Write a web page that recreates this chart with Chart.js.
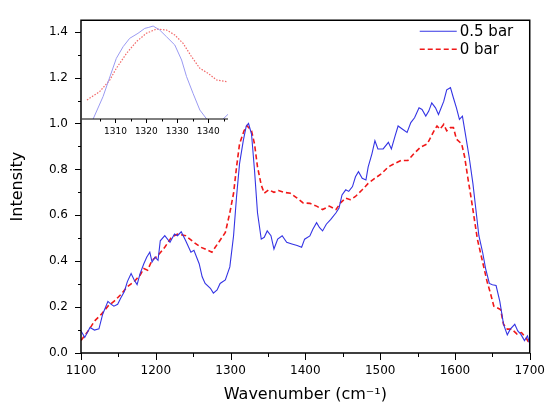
<!DOCTYPE html>
<html>
<head>
<meta charset="utf-8">
<script src="https://cdn.jsdelivr.net/npm/chart.js@4.4.1/dist/chart.umd.min.js"></script>
<style>
  html, body { margin: 0; padding: 0; background: #fff; }
  #wrap { position: relative; width: 556px; height: 409px; }
  #mainChart { position: absolute; left: 0; top: 0; }
  #insetChart { position: absolute; left: 82px; top: 14px; }
</style>
</head>
<body>
<div id="wrap">
  <canvas id="mainChart" width="556" height="409" style="width:556px;height:409px"></canvas>
  <canvas id="insetChart" width="146" height="125" style="width:146px;height:125px"></canvas>
</div>
<script>
// series labels
const seriesLabels = ['0.5 bar', '0 bar'];

// 0.5 bar spectrum
const waveBlue = [1100,1105,1112,1118,1124,1129,1136,1140,1144,1149,
  1153,1158,1162,1167,1171,1175,1179,1184,1188,1192,
  1195,1199,1203,1206,1212,1219,1225,1229,1234,1240,
  1247,1251,1258,1262,1266,1273,1277,1282,1286,1293,
  1299,1304,1308,1312,1317,1321,1324,1328,1332,1336,
  1341,1345,1349,1354,1358,1363,1369,1375,1382,1389,
  1395,1399,1406,1410,1415,1419,1423,1428,1434,1441,
  1445,1449,1454,1458,1463,1467,1471,1476,1481,1484,
  1489,1493,1497,1504,1511,1515,1520,1524,1530,1536,
  1541,1546,1552,1556,1561,1565,1569,1574,1578,1585,
  1589,1594,1598,1602,1606,1610,1614,1619,1624,1628,
  1632,1637,1641,1646,1650,1655,1660,1665,1670,1674,
  1680,1684,1688,1693,1697,1700];
const intBlue = [0.096,0.068,0.111,0.10,0.105,0.169,0.225,0.213,0.204,0.212,
  0.239,0.268,0.311,0.346,0.319,0.298,0.346,0.389,0.418,0.439,
  0.396,0.418,0.404,0.489,0.511,0.482,0.518,0.511,0.528,0.489,
  0.439,0.447,0.389,0.332,0.303,0.282,0.261,0.275,0.303,0.318,
  0.375,0.511,0.682,0.825,0.925,0.989,1.0,0.954,0.796,0.611,
  0.496,0.504,0.532,0.511,0.453,0.496,0.511,0.482,0.475,0.468,
  0.461,0.496,0.51,0.539,0.568,0.546,0.532,0.561,0.582,0.611,
  0.632,0.689,0.711,0.704,0.725,0.768,0.79,0.761,0.754,0.811,
  0.868,0.925,0.889,0.889,0.918,0.889,0.946,0.989,0.975,0.961,
  1.004,1.025,1.068,1.061,1.032,1.054,1.09,1.068,1.039,1.096,
  1.147,1.156,1.111,1.068,1.018,1.032,0.954,0.854,0.739,0.625,
  0.511,0.439,0.368,0.303,0.297,0.294,0.225,0.125,0.079,0.104,
  0.125,0.096,0.082,0.054,0.075,0.039];

// 0 bar spectrum
const waveRed = [1100,1108,1114,1118,1127,1136,1144,1153,1162,1171,
  1179,1184,1189,1195,1203,1212,1221,1229,1240,1251,
  1260,1266,1275,1284,1293,1299,1304,1308,1312,1318,
  1322,1328,1332,1336,1341,1345,1351,1358,1364,1371,
  1380,1389,1397,1406,1415,1423,1432,1441,1447,1454,
  1460,1467,1476,1484,1493,1502,1511,1519,1528,1537,
  1545,1554,1563,1572,1576,1580,1585,1589,1594,1598,
  1602,1609,1613,1617,1622,1626,1630,1635,1639,1643,
  1648,1652,1657,1661,1665,1670,1676,1683,1689,1696,
  1700];
const intRed = [0.054,0.089,0.118,0.139,0.168,0.204,0.225,0.254,0.289,0.311,
  0.339,0.368,0.361,0.404,0.425,0.461,0.504,0.518,0.511,0.482,
  0.461,0.453,0.439,0.482,0.525,0.611,0.696,0.811,0.911,0.968,
  0.99,0.968,0.911,0.811,0.732,0.696,0.711,0.70,0.708,0.70,
  0.696,0.675,0.654,0.652,0.64,0.625,0.64,0.625,0.654,0.675,
  0.668,0.682,0.711,0.739,0.761,0.782,0.811,0.825,0.839,0.839,
  0.868,0.897,0.911,0.968,0.989,0.975,0.996,0.968,0.982,0.982,
  0.932,0.911,0.854,0.768,0.668,0.582,0.496,0.425,0.368,0.311,
  0.254,0.204,0.196,0.189,0.125,0.104,0.104,0.082,0.089,0.061,
  0.039];

// inset (normalised zoom on the 1320 band)
const insetWaveBlue = [1301,1302.8,1306,1308.2,1310.3,1312.5,1314.6,1317.3,1319.5,1320.6,1322.2,
  1324.3,1326.5,1329.2,1331.4,1333,1335.1,1337.3,1339.5,1341,1343,1344.8,1346.4];
const insetIntBlue = [-0.1,0,0.24,0.45,0.65,0.775,0.864,0.918,0.971,0.98,0.996,
  0.954,0.882,0.793,0.632,0.454,0.275,0.096,0,-0.06,-0.06,0,0.05];
const insetWaveRed = [1300.8,1304.9,1308.2,1310.3,1313.6,1316.8,1320,1323.3,1326.5,1329.2,
  1331.9,1334.6,1337.3,1340,1342.7,1345.9];
const insetIntRed = [0.204,0.293,0.418,0.543,0.704,0.829,0.918,0.964,0.954,0.9,
  0.81,0.668,0.543,0.489,0.418,0.4];

// tick labels
const xTicks = [1100,1200,1300,1400,1500,1600,1700];
const yTicks = [0,0.2,0.4,0.6,0.8,1.0,1.2,1.4];
const insetTicks = [1310,1320,1330,1340];

const blue = '#3434e4';
const red = '#f01818';

Chart.defaults.font.family = '"DejaVu Sans", sans-serif';
Chart.defaults.color = '#000';

function pts(xs, ys) {
  return xs.map((x, i) => ({ x: x, y: ys[i] }));
}

function withMinors(majors, lo, hi) {
  const step = majors[1] - majors[0];
  const out = [];
  for (let i = -1; i < majors.length; i++) {
    const v = (i < 0 ? majors[0] : majors[i]) + (i < 0 ? -step / 2 : step / 2);
    if (v >= lo && v <= hi) out.push(v);
  }
  return out;
}

// frame + outward major/minor tick marks
const axisDecor = {
  id: 'axisDecor',
  afterDraw(chart, args, o) {
    const { ctx, chartArea: a } = chart;
    ctx.save();
    ctx.strokeStyle = '#000';
    ctx.setLineDash([]);
    ctx.lineWidth = o.frameWidth;
    ctx.beginPath();
    if (o.fullFrame) {
      ctx.rect(a.left, a.top, a.right - a.left, a.bottom - a.top);
    } else {
      ctx.moveTo(a.left, a.bottom);
      ctx.lineTo(a.right, a.bottom);
    }
    ctx.stroke();
    ctx.lineWidth = 1;
    o.marks.forEach(m => {
      const s = chart.scales[m.axis];
      const draw = (v, len) => {
        const p = Math.round(s.getPixelForValue(v)) + 0.5;
        ctx.beginPath();
        if (s.isHorizontal()) {
          ctx.moveTo(p, a.bottom);
          ctx.lineTo(p, a.bottom + len);
        } else {
          ctx.moveTo(a.left, p);
          ctx.lineTo(a.left - len, p);
        }
        ctx.stroke();
      };
      m.majors.forEach(v => draw(v, m.majorLen));
      m.minors.forEach(v => draw(v, m.minorLen));
    });
    ctx.restore();
  }
};

// legend in the top right corner of the plot
const cornerLegend = {
  id: 'cornerLegend',
  afterDraw(chart) {
    const { ctx, chartArea: a } = chart;
    ctx.save();
    ctx.font = '15px "DejaVu Sans", sans-serif';
    ctx.textBaseline = 'middle';
    ctx.textAlign = 'left';
    chart.data.datasets.forEach((ds, i) => {
      const y = a.top + 11 + i * 18;
      const x0 = a.right - 110;
      ctx.strokeStyle = ds.borderColor;
      ctx.lineWidth = ds.borderWidth;
      ctx.setLineDash(ds.borderDash || []);
      ctx.beginPath();
      ctx.moveTo(x0, y);
      ctx.lineTo(x0 + 37, y);
      ctx.stroke();
      ctx.fillStyle = '#000';
      ctx.fillText(ds.label, x0 + 40, y + 1);
    });
    ctx.restore();
  }
};

new Chart(document.getElementById('mainChart'), {
  type: 'line',
  data: {
    datasets: [
      { label: seriesLabels[0], data: pts(waveBlue, intBlue), borderColor: blue, borderWidth: 1.1,
        pointRadius: 0, tension: 0, fill: false },
      { label: seriesLabels[1], data: pts(waveRed, intRed), borderColor: red, borderWidth: 1.6,
        borderDash: [5, 3], pointRadius: 0, tension: 0, fill: false }
    ]
  },
  options: {
    responsive: false,
    animation: false,
    layout: { padding: { left: 0, right: 16, top: 14, bottom: 0 } },
    plugins: {
      legend: { display: false },
      tooltip: { enabled: false },
      axisDecor: {
        fullFrame: true, frameWidth: 1.5,
        marks: [
          { axis: 'x', majors: xTicks, minors: withMinors(xTicks, 1100, 1700), majorLen: 7, minorLen: 4 },
          { axis: 'y', majors: yTicks, minors: withMinors(yTicks, 0, 1.45), majorLen: 6, minorLen: 3 }
        ]
      }
    },
    scales: {
      x: {
        type: 'linear', min: 1100, max: 1700,
        grid: { display: false, drawTicks: false },
        border: { display: false },
        afterBuildTicks: s => { s.ticks = xTicks.map(v => ({ value: v })); },
        afterFit: s => { s.height = 56; },
        ticks: { padding: 11, font: { size: 12 }, callback: v => String(v) },
        title: { display: true, text: 'Wavenumber (cm\u207B\u00B9)', font: { size: 16 }, padding: { bottom: 5 } }
      },
      y: {
        min: 0, max: 1.45,
        grid: { display: false, drawTicks: false },
        border: { display: false },
        afterBuildTicks: s => { s.ticks = yTicks.map(v => ({ value: v })); },
        afterFit: s => { s.width = 81; },
        ticks: { padding: 13, font: { size: 12 }, callback: v => v.toFixed(1) },
        title: { display: true, text: 'Intensity', font: { size: 16 }, padding: { top: 8 } }
      }
    }
  },
  plugins: [axisDecor, cornerLegend]
});

new Chart(document.getElementById('insetChart'), {
  type: 'line',
  data: {
    datasets: [
      { label: seriesLabels[0], data: pts(insetWaveBlue, insetIntBlue), borderColor: '#9a9af2', borderWidth: 1,
        pointRadius: 0, tension: 0, fill: false },
      { label: seriesLabels[1], data: pts(insetWaveRed, insetIntRed), borderColor: '#f26a6a', borderWidth: 1.2,
        borderDash: [1.5, 1.5], pointRadius: 0, tension: 0, fill: false }
    ]
  },
  options: {
    responsive: false,
    animation: false,
    layout: { padding: 0 },
    plugins: {
      legend: { display: false },
      tooltip: { enabled: false },
      axisDecor: {
        fullFrame: false, frameWidth: 1,
        marks: [
          { axis: 'x', majors: insetTicks, minors: withMinors(insetTicks, 1299.2, 1346.4), majorLen: 4, minorLen: 2.5 }
        ]
      }
    },
    scales: {
      x: {
        type: 'linear', min: 1299.2, max: 1346.4,
        grid: { display: false, drawTicks: false },
        border: { display: false },
        afterBuildTicks: s => { s.ticks = insetTicks.map(v => ({ value: v })); },
        afterFit: s => { s.height = 20; },
        ticks: { padding: 7, font: { size: 9 }, callback: v => String(v) }
      },
      y: { display: false, min: 0, max: 1.125 }
    }
  },
  plugins: [axisDecor]
});
</script>
</body>
</html>
